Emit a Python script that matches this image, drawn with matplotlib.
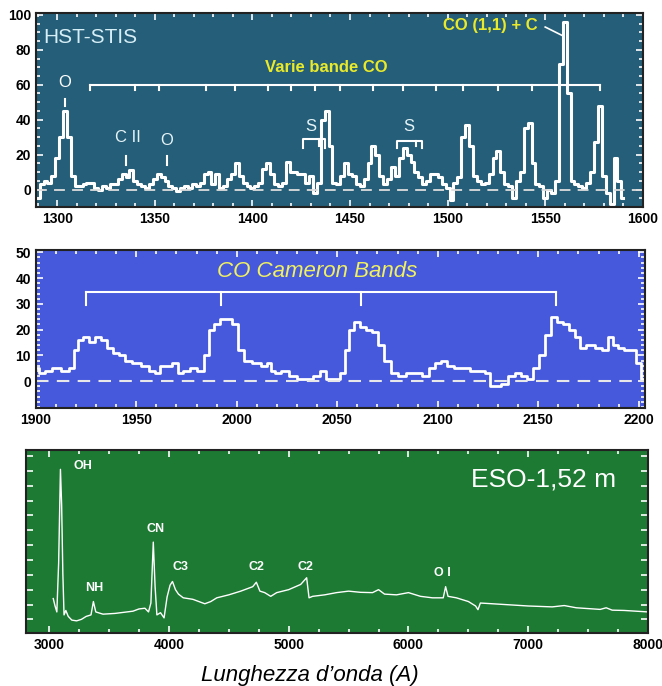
import matplotlib
matplotlib.use("Agg")
import matplotlib.pyplot as plt
from matplotlib.ticker import MultipleLocator

plt.rcParams['font.family'] = ['Liberation Sans', 'DejaVu Sans']

# ---- HST-STIS spectrum (top panel) ----
hst_wave = [1290, 1292, 1294, 1296, 1298, 1300, 1302, 1304, 1306, 1308,
            1310, 1312, 1314, 1316, 1318, 1320, 1322, 1324, 1326, 1328,
            1330, 1332, 1334, 1336, 1338, 1340, 1342, 1344, 1346, 1348,
            1350, 1352, 1354, 1356, 1358, 1360, 1362, 1364, 1366, 1368,
            1370, 1372, 1374, 1376, 1378, 1380, 1382, 1384, 1386, 1388,
            1390, 1392, 1394, 1396, 1398, 1400, 1402, 1404, 1406, 1408,
            1410, 1412, 1414, 1416, 1418, 1420, 1422, 1424, 1426, 1428,
            1430, 1432, 1434, 1436, 1438, 1440, 1442, 1444, 1446, 1448,
            1450, 1452, 1454, 1456, 1458, 1460, 1462, 1464, 1466, 1468,
            1470, 1472, 1474, 1476, 1478, 1480, 1482, 1484, 1486, 1488,
            1490, 1492, 1494, 1496, 1498, 1500, 1502, 1504, 1506, 1508,
            1510, 1512, 1514, 1516, 1518, 1520, 1522, 1524, 1526, 1528,
            1530, 1532, 1534, 1536, 1538, 1540, 1542, 1544, 1546, 1548,
            1550, 1552, 1554, 1556, 1558, 1560, 1562, 1564, 1566, 1568,
            1570, 1572, 1574, 1576, 1578, 1580, 1582, 1584, 1586, 1588, 1590]
hst_flux = [-5, 3, 5, 4, 8, 18, 30, 45, 30, 8,
            2, 2, 3, 4, 4, 1, 0, 2, 1, 3,
            3, 6, 9, 7, 11, 5, 3, 2, 1, 3,
            6, 9, 7, 5, 2, 1, -1, 1, 2, 1,
            3, 2, 4, 9, 10, 3, 9, 1, 2, 6,
            9, 15, 8, 4, 2, 1, 2, 4, 12, 15,
            9, 3, 2, 4, 16, 10, 10, 9, 9, 4,
            8, -2, 4, 40, 45, 25, 4, 3, 8, 15,
            9, 8, 3, 2, 6, 15, 25, 20, 8, 3,
            6, 13, 8, 18, 24, 20, 16, 10, 7, 3,
            5, 9, 9, 7, 3, 1, -6, 4, 7, 30,
            37, 25, 8, 5, 3, 4, 9, 18, 22, 10,
            3, 2, -5, 5, 10, 35, 38, 15, 3, 2,
            -5, 0, -2, 5, 72, 96, 55, 5, 3, 2,
            1, 4, 10, 27, 48, 8, -2, -8, 18, 5, -5]
co_band_ticks = [1317, 1340, 1352, 1376, 1391, 1408, 1420, 1432, 1445, 1462,
                 1477, 1494, 1508, 1526, 1543, 1578]

# ---- CO Cameron bands (middle panel) ----
cam_wave = [1900, 1903, 1906, 1910, 1915, 1918, 1920, 1922, 1925, 1928,
            1931, 1934, 1937, 1940, 1943, 1946, 1950, 1955, 1958, 1961,
            1963, 1966, 1970, 1972, 1975, 1978, 1982, 1985, 1987, 1990,
            1993, 1996, 1999, 2002, 2005, 2010, 2014, 2016, 2018, 2020,
            2024, 2028, 2032, 2036, 2040, 2043, 2046, 2050, 2053, 2055,
            2057, 2060, 2063, 2066, 2069, 2072, 2075, 2078, 2082, 2086,
            2090, 2094, 2097, 2100, 2103, 2106, 2110, 2114, 2118, 2122,
            2125, 2127, 2130, 2133, 2137, 2140, 2143, 2146, 2149, 2152,
            2155, 2158, 2161, 2164, 2167, 2170, 2172, 2176, 2180, 2183,
            2186, 2188, 2191, 2194, 2197, 2200, 2202, 2204]
cam_flux = [5, 3, 4, 5, 4, 5, 12, 16, 17, 15,
            17, 16, 13, 11, 10, 8, 7, 6, 4, 3,
            6, 6, 7, 3, 4, 5, 4, 10, 20, 22,
            24, 24, 22, 12, 8, 7, 6, 7, 4, 3,
            4, 2, 1, 1, 2, 4, 1, 1, 3, 12,
            20, 23, 21, 20, 19, 14, 8, 3, 2, 3,
            3, 2, 5, 7, 8, 6, 5, 5, 4, 4,
            3, -2, -2, -1, 2, 3, 2, 1, 5, 10,
            18, 25, 23, 22, 20, 17, 13, 14, 13, 12,
            17, 14, 13, 12, 12, 7, 1, -1]
cameron_ticks = [1925, 1992, 2062, 2159]
cam_yticks = [0, 10, 20, 30, 40, 50]

# ---- ESO 1.52 m spectrum (bottom panel) ----
eso_wave = [3035, 3050, 3065, 3080, 3095, 3105, 3115, 3125, 3140, 3160,
            3190, 3230, 3270, 3310, 3350, 3370, 3390, 3450, 3550, 3650,
            3700, 3750, 3800, 3830, 3850, 3870, 3885, 3900, 3930, 3960,
            3985, 4010, 4030, 4055, 4080, 4120, 4200, 4300, 4350, 4400,
            4500, 4600, 4700, 4730, 4760, 4800, 4850, 4900, 5000, 5100,
            5150, 5170, 5200, 5300, 5400, 5500, 5600, 5700, 5750, 5800,
            5900, 6000, 6100, 6200, 6290, 6310, 6330, 6400, 6500, 6560,
            6580, 6600, 6700, 6800, 7000, 7200, 7300, 7400, 7600, 7650,
            7700, 7800, 8000]
eso_flux = [1.4, 0.9, 0.5, 3.8, 10.1, 7.7, 3.1, 0.3, 0.6, 0.2,
            -0.05, -0.1, 0.0, 0.2, 0.3, 1.2, 0.5, 0.35, 0.4, 0.5,
            0.55, 0.7, 0.75, 0.5, 1.1, 5.2, 2.2, 0.3, 0.45, 0.1,
            1.5, 2.3, 2.55, 2.0, 1.7, 1.45, 1.35, 1.05, 1.2, 1.45,
            1.65, 1.9, 2.2, 2.5, 1.9, 1.8, 1.55, 1.8, 2.0, 2.35,
            2.8, 1.45, 1.55, 1.65, 1.8, 1.9, 1.82, 1.8, 2.0, 1.7,
            1.65, 1.8, 1.55, 1.45, 1.45, 2.2, 1.55, 1.45, 1.2, 0.9,
            0.65, 1.1, 1.05, 1.0, 0.9, 0.84, 0.93, 0.78, 0.67, 0.78,
            0.62, 0.6, 0.5]
eso_labels = ["OH", "NH", "CN", "C3", "C2", "C2", "O I"]
eso_label_x = [3280, 3380, 3890, 4100, 4735, 5140, 6280]
eso_label_y = [10.3, 2.1, 6.1, 3.5, 3.5, 3.5, 3.1]

fig = plt.figure(figsize=(6.62, 6.86), dpi=100)
ax1 = fig.add_axes([0.054, 0.698, 0.917, 0.283])
ax2 = fig.add_axes([0.054, 0.405, 0.920, 0.231])
ax3 = fig.add_axes([0.039, 0.077, 0.940, 0.267])

yellow = '#eaea2a'

def style(ax, bg):
    ax.set_facecolor(bg)
    for s in ax.spines.values():
        s.set_color('#222222')
        s.set_linewidth(1.5)
    ax.tick_params(which='both', direction='in', top=True, right=True,
                   color='white', labelcolor='black', width=1.2)
    ax.tick_params(which='major', length=5)
    ax.tick_params(which='minor', length=3)
    for lab in ax.get_xticklabels() + ax.get_yticklabels():
        lab.set_fontweight('bold')
        lab.set_fontsize(10)

# top panel
ax1.plot(hst_wave, hst_flux, color='white', lw=2.2, drawstyle='steps-mid')
ax1.axhline(0, color='#dddddd', lw=1.3, ls=(0, (6, 4)))
ax1.set_xlim(1289, 1600)
ax1.set_ylim(-10, 101)
ax1.xaxis.set_major_locator(MultipleLocator(50))
ax1.xaxis.set_minor_locator(MultipleLocator(10))
ax1.yaxis.set_major_locator(MultipleLocator(20))
ax1.yaxis.set_minor_locator(MultipleLocator(5))
style(ax1, '#255e78')
ax1.text(1293, 87, 'HST-STIS', color='#d6eef6', fontsize=15, va='center')
ax1.text(1438, 70, 'Varie bande CO', color=yellow, fontsize=12,
         fontweight='bold', ha='center', va='center')
ax1.plot([co_band_ticks[0], co_band_ticks[-1]], [60, 60], color='white', lw=1.5)
for t in co_band_ticks:
    ax1.plot([t, t], [60, 57], color='white', lw=1.5)
ax1.text(1304, 61, 'O', color='white', fontsize=12, ha='center', va='center')
ax1.plot([1304, 1304], [48, 52], color='white', lw=1.5)
ax1.text(1336, 30, 'C II', color='#e6f4f8', fontsize=12, ha='center', va='center')
ax1.plot([1335, 1335], [14, 19], color='white', lw=1.5)
ax1.text(1356, 28, 'O', color='#e6f4f8', fontsize=12, ha='center', va='center')
ax1.plot([1356, 1356], [14, 19], color='white', lw=1.5)
ax1.text(1430, 36, 'S', color='#e6f4f8', fontsize=12, ha='center', va='center')
ax1.plot([1426, 1426, 1437, 1437], [24, 29, 29, 24], color='white', lw=1.5)
ax1.plot([1434, 1434], [29, 25], color='white', lw=1.5)
ax1.text(1480, 36, 'S', color='#e6f4f8', fontsize=12, ha='center', va='center')
ax1.plot([1474, 1474, 1487, 1487], [24, 28, 28, 24], color='white', lw=1.5)
ax1.plot([1484, 1484], [28, 25], color='white', lw=1.5)
ax1.text(1522, 94, 'CO (1,1) + C', color=yellow, fontsize=12,
         fontweight='bold', ha='center', va='center')
ax1.plot([1550, 1559], [93, 88], color='white', lw=1.2)

# middle panel
ax2.plot(cam_wave, cam_flux, color='white', lw=2, drawstyle='steps-mid')
ax2.axhline(0, color='#e8e8e8', lw=1.5, ls=(0, (6, 4)))
ax2.set_xlim(1900, 2203)
ax2.set_ylim(-10.5, 51)
ax2.xaxis.set_major_locator(MultipleLocator(50))
ax2.xaxis.set_minor_locator(MultipleLocator(10))
ax2.set_yticks(cam_yticks)
ax2.yaxis.set_minor_locator(MultipleLocator(2))
style(ax2, '#4658dc')
ax2.text(2040, 42.5, 'CO Cameron Bands', color='#f0f060', fontsize=16,
         fontstyle='italic', ha='center', va='center')
ax2.plot([cameron_ticks[0], cameron_ticks[-1]], [34.5, 34.5], color='white', lw=1.5)
for t in cameron_ticks:
    ax2.plot([t, t], [34.5, 29.5], color='white', lw=1.5)

# bottom panel
ax3.plot(eso_wave, eso_flux, color='white', lw=1)
ax3.set_xlim(2806, 8000)
ax3.set_ylim(-0.93, 11.4)
ax3.xaxis.set_major_locator(MultipleLocator(1000))
ax3.xaxis.set_minor_locator(MultipleLocator(250))
ax3.yaxis.set_major_locator(MultipleLocator(1))
ax3.set_yticklabels([])
style(ax3, '#1c7a32')
for lab, x, y in zip(eso_labels, eso_label_x, eso_label_y):
    ax3.text(x, y, lab, color='white', fontsize=9, fontweight='bold',
             ha='center', va='center')
ax3.text(7130, 9.4, 'ESO-1,52 m', color='white', fontsize=19,
         ha='center', va='center')

fig.text(0.468, 0.016, "Lunghezza d\u2019onda (A)", fontsize=16,
         fontstyle='italic', ha='center', va='center')

fig.savefig('out.png', dpi=100, facecolor='white')
